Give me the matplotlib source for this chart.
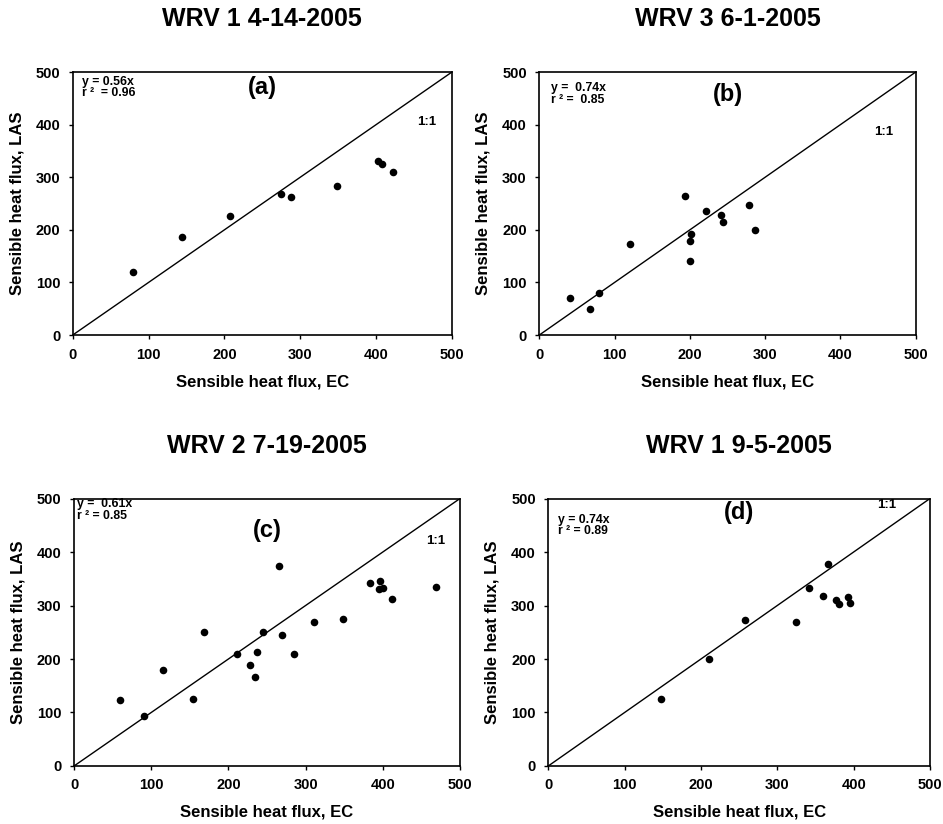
import numpy as np
import matplotlib
matplotlib.use("Agg")
import matplotlib.pyplot as plt

plt.rcParams["font.family"] = ["Liberation Sans", "DejaVu Sans"]
plt.rcParams["font.weight"] = "bold"

# --- data (EC on x, LAS on y) ---
titles = ["WRV 1 4-14-2005", "WRV 3 6-1-2005", "WRV 2 7-19-2005", "WRV 1 9-5-2005"]
panel_tags = ["(a)", "(b)", "(c)", "(d)"]
fit_lines = ["y = 0.56x", "y =  0.74x", "y =  0.61x", "y = 0.74x"]
r2_lines = ["r \u00b2  = 0.96", "r \u00b2 =  0.85", "r \u00b2 = 0.85", "r \u00b2 = 0.89"]

ec_a = [79, 144, 207, 274, 288, 348, 402, 408, 422]
las_a = [120, 186, 226, 268, 263, 284, 330, 326, 310]

ec_b = [41, 67, 79, 121, 194, 201, 200, 200, 221, 241, 244, 279, 286]
las_b = [71, 49, 79, 174, 265, 193, 178, 141, 235, 229, 215, 248, 200]

ec_c = [60, 91, 115, 154, 168, 211, 228, 237, 234, 245, 266,
        269, 285, 311, 349, 384, 396, 395, 400, 412, 469]
las_c = [124, 94, 179, 125, 251, 210, 188, 214, 166, 251, 374,
         244, 210, 269, 275, 342, 346, 331, 333, 312, 335]

ec_d = [148, 210, 258, 325, 342, 360, 367, 377, 381, 392, 395]
las_d = [126, 200, 273, 269, 332, 317, 377, 310, 302, 316, 305]

ticks = [0, 100, 200, 300, 400, 500]

boxes = [
    [0.0771, 0.5934, 0.4022, 0.3192],
    [0.5719, 0.5934, 0.3992, 0.3192],
    [0.0785, 0.0704, 0.4093, 0.3246],
    [0.5814, 0.0704, 0.4048, 0.3246],
]
tag_y = [0.943, 0.916, 0.88, 0.948]
fit_xy = [(0.024, 0.94), (0.03, 0.916), (0.008, 0.957), (0.026, 0.899)]
one_one_xy = [(467, 405), (457, 386), (469, 420), (443, 488)]

data = [(ec_a, las_a), (ec_b, las_b), (ec_c, las_c), (ec_d, las_d)]

fig = plt.figure(figsize=(9.43, 8.24), dpi=100)
fig.patch.set_facecolor("white")

for i, (ec, las) in enumerate(data):
    ax = fig.add_axes(boxes[i])
    ax.plot([0, 500], [0, 500], color="black", linewidth=1.0, zorder=1)
    ax.scatter(ec, las, s=30, color="black", zorder=3, linewidths=0)
    ax.set_xlim(0, 500)
    ax.set_ylim(0, 500)
    ax.set_xticks(ticks)
    ax.set_yticks(ticks)
    ax.tick_params(direction="out", length=3, width=1, labelsize=10.5, pad=6)
    for lab in ax.get_xticklabels() + ax.get_yticklabels():
        lab.set_fontweight("bold")
    for sp in ax.spines.values():
        sp.set_linewidth(1.2)
    ax.set_xlabel("Sensible heat flux, EC", fontsize=12, fontweight="bold", labelpad=9)
    ax.set_ylabel("Sensible heat flux, LAS", fontsize=12, fontweight="bold", labelpad=8)
    ax.set_title(titles[i], fontsize=18, fontweight="bold", pad=33)

    ax.text(0.5, tag_y[i], panel_tags[i], transform=ax.transAxes,
            ha="center", va="center", fontsize=17, fontweight="bold")
    fx, fy = fit_xy[i]
    ax.text(fx, fy, fit_lines[i] + "\n" + r2_lines[i], transform=ax.transAxes,
            ha="left", va="center", fontsize=8.8, fontweight="bold", linespacing=0.92)
    ox, oy = one_one_xy[i]
    ax.text(ox, oy, "1:1", ha="center", va="center", fontsize=9.5, fontweight="bold")

plt.savefig("out.png", dpi=100, facecolor="white")
